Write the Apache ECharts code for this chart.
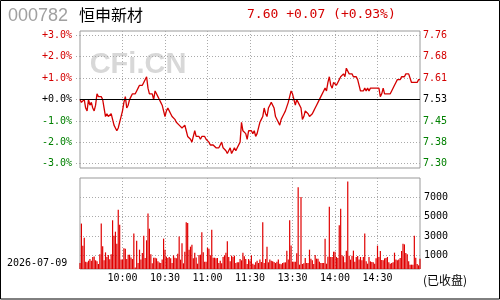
<!DOCTYPE html>
<html><head><meta charset="utf-8">
<script src="https://cdn.jsdelivr.net/npm/echarts@6/dist/echarts.min.js"></script>
<style>html,body{margin:0;padding:0;background:#fff}#c{width:500px;height:300px}</style>
</head><body><div id="c"></div>
<script>
const stockCode = '000782';
const stockName = '恒申新材';
const prevClose = 7.53;
const lastPrice = 7.60;
const tradeDate = '2026-07-09';
const statusText = '(已收盘)';
const watermark = 'CFi.CN';
const pctTicks = [-3, -2, -1, 0, 1, 2, 3];
const volTicks = [1000, 3000, 5000, 7000];
const timeLabels = ['10:00', '10:30', '11:00', '11:30', '13:30', '14:00', '14:30'];

// 9:30 - 11:30 (121 minutes)
const amPrices = [
7.53,7.52,7.52,7.53,7.50,7.49,7.53,7.51,7.52,7.50,
7.49,7.51,7.55,7.54,7.54,7.54,7.53,7.50,7.47,7.48,
7.47,7.47,7.48,7.46,7.44,7.43,7.42,7.43,7.45,7.47,
7.49,7.52,7.54,7.50,7.51,7.53,7.54,7.55,7.55,7.55,
7.56,7.57,7.58,7.58,7.58,7.59,7.59,7.61,7.57,7.55,
7.55,7.55,7.53,7.56,7.55,7.54,7.53,7.52,7.51,7.49,
7.47,7.49,7.50,7.49,7.48,7.47,7.47,7.46,7.45,7.45,
7.44,7.44,7.43,7.43,7.44,7.42,7.40,7.40,7.39,7.38,
7.40,7.42,7.40,7.40,7.40,7.39,7.40,7.40,7.40,7.39,
7.39,7.38,7.37,7.37,7.37,7.37,7.36,7.36,7.36,7.37,
7.38,7.36,7.36,7.35,7.34,7.34,7.36,7.34,7.35,7.36,
7.35,7.36,7.36,7.38,7.45,7.42,7.42,7.41,7.39,7.42,
7.42
];
// 13:01 - 15:00 (120 minutes)
const pmPrices = [
7.42,7.41,7.42,7.40,7.41,7.43,7.45,7.46,7.47,7.50,
7.48,7.47,7.50,7.51,7.52,7.52,7.50,7.47,7.47,7.45,
7.44,7.46,7.47,7.48,7.49,7.49,7.52,7.54,7.56,7.55,
7.53,7.51,7.53,7.52,7.52,7.50,7.46,7.47,7.49,7.49,
7.48,7.47,7.47,7.48,7.49,7.50,7.51,7.52,7.52,7.54,
7.54,7.56,7.57,7.56,7.59,7.61,7.58,7.57,7.59,7.59,
7.58,7.59,7.60,7.61,7.61,7.62,7.61,7.64,7.64,7.62,
7.62,7.62,7.61,7.61,7.61,7.60,7.58,7.56,7.56,7.56,
7.57,7.56,7.57,7.56,7.57,7.57,7.57,7.57,7.57,7.57,
7.57,7.54,7.55,7.57,7.55,7.55,7.55,7.55,7.55,7.56,
7.56,7.58,7.59,7.60,7.60,7.60,7.61,7.61,7.61,7.62,
7.62,7.62,7.62,7.59,7.59,7.59,7.59,7.59,7.60,7.60
];
const amVolumes = [
620,4700,2400,3240,760,690,860,1030,860,1240,
1300,900,800,520,1520,4700,2350,900,1720,1240,
1450,1000,1520,5040,3450,3860,2620,6140,4590,970,
970,2140,2100,1030,1480,1480,1200,1030,3660,150,
2930,620,2000,970,1660,3450,1140,2970,5730,4170,
1520,590,1170,1170,1100,790,660,620,970,3140,
2000,1280,1140,1240,1100,620,1410,1170,1100,1590,
3350,970,2660,590,1790,4830,4760,2000,2310,2520,
1100,1690,1200,550,1450,1480,3800,1720,760,760,
2210,2100,1410,4070,1170,1170,1100,1140,620,860,
590,1240,1410,1690,2860,1240,790,1380,1240,1380,
620,690,690,1030,900,1690,1310,1030,520,1030,
880
];
const pmVolumes = [
1410,550,450,690,860,620,970,720,4830,620,
1030,2310,690,970,860,790,720,620,760,970,
550,480,620,660,690,1900,970,5040,2420,760,
760,760,1620,8450,450,7450,520,590,1140,620,
620,2000,1070,900,520,1450,1070,1070,760,620,
620,620,3140,550,1280,6450,1240,1240,1790,1790,
1240,1140,4520,6240,1410,1310,690,1900,9040,1380,
970,1380,1900,760,1240,1350,970,1240,900,1240,
3660,790,550,1240,790,720,690,550,1100,2420,
1240,1860,930,900,1100,1140,1240,690,550,620,
690,1690,970,900,970,1140,1860,2620,2550,1660,
1520,790,450,450,450,3450,1170,520,380,1070
];

function pad(n){return (n<10?'0':'')+n;}
const times = [];
for (let m = 0; m <= 120; m++) { const t = 9*60+30+m; times.push(Math.floor(t/60)+':'+pad(t%60)); }
for (let m = 1; m <= 120; m++) { const t = 13*60+m; times.push(Math.floor(t/60)+':'+pad(t%60)); }

const prices = amPrices.concat(pmPrices);
const volumes = amVolumes.concat(pmVolumes);
const pctData = prices.map(p => (p/prevClose - 1)*100);

const RED = '#d40000', GREEN = '#008000';
const MONO = '"DejaVu Sans Mono", "Liberation Mono", monospace';
const chg = lastPrice - prevClose;
const sign = chg >= 0 ? '+' : '-';
const headerText = lastPrice.toFixed(2) + ' ' + sign + Math.abs(chg).toFixed(2) +
  ' (' + sign + Math.abs(chg/prevClose*100).toFixed(2) + '%)';

const showTime = (i, v) => timeLabels.indexOf(v) >= 0;
const pctColor = v => v > 0 ? RED : (v < 0 ? GREEN : '#000');
const dotted = {color: '#aaa', type: [1, 2], width: 1};

const chart = echarts.init(document.getElementById('c'), null, {renderer: 'canvas'});
chart.setOption({
  animation: false,
  backgroundColor: '#fff',
  grid: [
    {left: 80, right: 80, top: 31, height: 137, show: true, borderColor: '#999', borderWidth: 1},
    {left: 80, right: 80, top: 178, height: 91, show: true, borderColor: '#999', borderWidth: 1}
  ],
  xAxis: [
    {type: 'category', gridIndex: 0, data: times, boundaryGap: false,
     axisLine: {show: false}, axisTick: {show: false}, axisLabel: {show: false},
     splitLine: {show: true, interval: showTime, lineStyle: dotted}},
    {type: 'category', gridIndex: 1, data: times, boundaryGap: false,
     axisLine: {show: false}, axisTick: {show: false},
     axisLabel: {show: true, interval: showTime, color: '#000', fontFamily: MONO, fontSize: 10, margin: 4},
     splitLine: {show: true, interval: showTime, lineStyle: dotted}}
  ],
  yAxis: [
    {type: 'value', gridIndex: 0, position: 'left', min: -3.2, max: 3.2,
     axisLine: {show: false},
     axisTick: {show: true, length: 4, customValues: pctTicks, lineStyle: dotted},
     axisLabel: {customValues: pctTicks, margin: 8, fontFamily: MONO, fontSize: 10,
       formatter: v => (v >= 0 ? '+' : '') + v.toFixed(1) + '%', color: pctColor},
     splitLine: {show: true, lineStyle: dotted}},
    {type: 'value', gridIndex: 0, position: 'right', min: -3.2, max: 3.2,
     axisLine: {show: false},
     axisTick: {show: false, customValues: pctTicks},
     axisLabel: {customValues: pctTicks, margin: 3, fontFamily: MONO, fontSize: 10,
       formatter: v => (prevClose*(1+v/100)).toFixed(2), color: pctColor},
     splitLine: {show: false}},
    {type: 'value', gridIndex: 1, min: 0, max: 9414, show: false, splitLine: {show: false}},
    {type: 'value', gridIndex: 1, position: 'right', min: -417, max: 8997,
     axisLine: {show: false},
     axisTick: {show: false, customValues: volTicks},
     axisLabel: {customValues: volTicks, margin: 4, color: '#000', fontFamily: MONO, fontSize: 10,
       formatter: v => String(Math.round(v))},
     splitLine: {show: true, lineStyle: dotted}}
  ],
  series: [
    {type: 'line', xAxisIndex: 0, yAxisIndex: 0, data: pctData, showSymbol: false, symbol: 'none',
     lineStyle: {color: RED, width: 1.3}, z: 3,
     markLine: {silent: true, symbol: ['none', 'none'], label: {show: false},
       lineStyle: {color: '#000', width: 1, type: 'solid'}, data: [{yAxis: 0}]}},
    {type: 'bar', xAxisIndex: 1, yAxisIndex: 2, data: volumes, barWidth: 1.2,
     itemStyle: {color: '#e00000'}}
  ],
  graphic: [
    {type: 'rect', shape: {x: 0.5, y: 0.5, width: 499, height: 298.5}, style: {fill: 'none', stroke: '#000', lineWidth: 1}, silent: true},
    {type: 'text', x: 138, y: 65, z: -1, style: {text: watermark, fill: '#d8d8d8', font: 'bold 29px "Liberation Sans", Arial, sans-serif', textAlign: 'center', textVerticalAlign: 'middle'}},
    {type: 'text', x: 8, y: 16, style: {text: stockCode, fill: '#a0a0a0', font: '18px "Liberation Sans", Arial, sans-serif', textVerticalAlign: 'middle'}},
    {type: 'text', x: 79, y: 15, style: {text: stockName, fill: '#000', font: '16px "Noto Sans CJK SC", sans-serif', textVerticalAlign: 'middle'}},
    {type: 'text', x: 247, y: 15, style: {text: headerText, fill: RED, font: '13px ' + MONO, textVerticalAlign: 'middle'}},
    {type: 'text', x: 7, y: 263, style: {text: tradeDate, fill: '#000', font: '10px ' + MONO, textVerticalAlign: 'middle'}},
    {type: 'text', x: 423, y: 280, style: {text: statusText, fill: '#000', font: '12px "Noto Sans CJK SC", sans-serif', textVerticalAlign: 'middle'}}
  ]
});
</script></body></html>
